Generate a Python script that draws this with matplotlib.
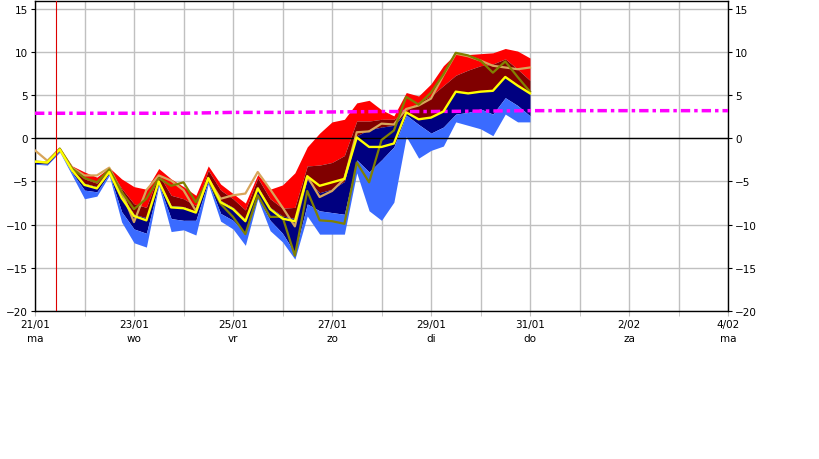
import matplotlib
matplotlib.use('agg')
import matplotlib.pyplot as plt
import matplotlib.dates as mdates
import matplotlib.ticker as mticker
import pandas as pd

# 6-hourly ensemble steps, 21/01 00h .. 31/01 00h
times = pd.date_range('2019-01-21 00:00', periods=41, freq='6h')

# band edges: minimum, lower quartile, median, upper quartile, maximum
t_min = [-3.0, -3.1, -1.6, -4.3, -7.0, -6.7, -4.3, -9.7, -12.1, -12.6,
         -5.5, -10.8, -10.6, -11.2, -5.3, -9.6, -10.5, -12.4, -7.0, -10.7,
         -12.0, -14.0, -9.0, -11.1, -11.1, -11.1, -4.0, -8.4, -9.5, -7.4,
         0.2, -2.3, -1.4, -0.9, 1.9, 1.5, 1.1, 0.3, 2.8, 1.9, 1.9]
t_q1 = [-2.9, -3.0, -1.5, -4.0, -6.0, -6.2, -4.1, -8.5, -10.5, -11.0,
        -5.3, -9.3, -9.5, -9.5, -5.0, -8.7, -9.5, -11.0, -6.8, -9.5,
        -11.0, -13.3, -7.6, -8.4, -8.6, -8.8, -2.5, -3.9, -2.5, -1.0,
        2.7, 1.6, 0.6, 1.3, 2.8, 3.0, 3.4, 2.8, 4.7, 3.8, 2.6]
t_med = [-2.75, -2.85, -1.3, -3.7, -5.2, -5.6, -3.8, -6.6, -8.8, -9.2,
         -4.9, -7.8, -7.9, -8.5, -4.5, -7.2, -8.0, -9.4, -5.6, -8.0,
         -9.0, -9.3, -4.8, -6.3, -5.9, -5.0, 0.3, 1.0, 1.3, 1.5,
         3.0, 2.3, 2.5, 3.2, 5.5, 5.3, 5.5, 5.6, 7.2, 6.2, 5.3]
t_q3 = [-2.7, -2.8, -1.2, -3.4, -4.7, -5.2, -3.6, -5.8, -7.6, -8.0,
        -4.2, -6.6, -7.0, -7.8, -3.7, -6.0, -7.0, -8.3, -4.6, -7.0,
        -8.1, -8.0, -3.2, -3.1, -2.8, -2.0, 2.0, 2.0, 2.2, 2.2,
        3.2, 4.2, 4.9, 6.1, 7.3, 7.9, 8.4, 8.6, 9.2, 8.0, 6.7]
t_max = [-2.6, -2.7, -1.1, -3.2, -3.9, -4.5, -3.4, -4.7, -5.6, -5.9,
         -3.5, -4.7, -5.6, -6.6, -3.2, -5.3, -6.4, -7.5, -4.2, -5.9,
         -5.4, -4.0, -1.0, 0.6, 1.9, 2.2, 4.1, 4.4, 3.3, 2.6,
         5.3, 4.9, 6.3, 8.4, 9.8, 9.7, 9.8, 9.9, 10.4, 10.1, 9.3]

# single runs
t_yellow = [-2.7, -2.8, -1.3, -3.7, -5.4, -5.8, -3.9, -6.9, -9.0, -9.5,
            -5.0, -8.0, -8.1, -8.6, -4.6, -7.4, -8.2, -9.6, -5.8, -8.2,
            -9.3, -9.6, -4.4, -5.5, -5.1, -4.7, 0.1, -1.0, -1.0, -0.6,
            3.0, 2.2, 2.4, 3.1, 5.4, 5.2, 5.4, 5.5, 7.1, 6.1, 5.2]
t_tan = [-1.4, -2.6, -1.2, -3.4, -4.3, -4.3, -3.4, -6.2, -9.7, -6.0,
         -4.3, -4.9, -6.0, -8.4, -4.7, -7.0, -6.6, -6.4, -3.9, -5.9,
         -8.0, -10.2, -4.4, -6.8, -6.1, -4.7, 0.7, 0.8, 1.7, 1.6,
         3.4, 3.8, 4.6, 7.3, 9.8, 9.5, 9.0, 8.4, 8.2, 8.0, 8.2]
t_olive = [-2.7, -2.8, -1.2, -3.5, -4.6, -5.1, -3.6, -6.2, -8.2, -7.0,
           -4.6, -5.5, -5.1, -7.4, -4.8, -7.6, -9.1, -11.1, -6.6, -9.1,
           -9.1, -13.6, -6.1, -9.5, -9.6, -9.9, -2.8, -5.1, -0.2, 0.9,
           4.8, 3.9, 5.3, 7.4, 9.9, 9.6, 9.0, 7.6, 8.9, 7.1, 5.4]

# climate mean, daily
clim_days = pd.date_range('2019-01-21', '2019-02-04', freq='D')
clim = [2.9, 2.9, 2.9, 2.9, 3.0, 3.0, 3.05, 3.1, 3.1, 3.15,
        3.2, 3.2, 3.2, 3.2, 3.2]

now = pd.Timestamp('2019-01-21 10:00')
daynames = ['ma', 'di', 'wo', 'do', 'vr', 'za', 'zo']

plt.rcParams['font.family'] = 'DejaVu Sans'
plt.rcParams['font.size'] = 7.5

fig = plt.figure(figsize=(8.19, 4.6), dpi=100)
ax = fig.add_axes([35 / 819, 148 / 460, 693 / 819, 310 / 460])

ax.fill_between(times, t_q3, t_max, color='#ff0000', lw=0, zorder=2)
ax.fill_between(times, t_med, t_q3, color='#800000', lw=0, zorder=2)
ax.fill_between(times, t_q1, t_med, color='#000080', lw=0, zorder=2)
ax.fill_between(times, t_min, t_q1, color='#3a6bff', lw=0, zorder=2)

ax.axhline(0, color='black', lw=1.0, zorder=3)
ax.plot(clim_days, clim, color='#ff00ff', lw=2.5, dashes=(2.7, 1.15, 1.0, 1.15), zorder=4)

ax.plot(times, t_tan, color='#d8a55a', lw=1.6, zorder=5)
ax.plot(times, t_olive, color='#808000', lw=1.6, zorder=6)
ax.plot(times, t_yellow, color='#ffff00', lw=1.7, zorder=7)

ax.axvline(now, color='#dd0000', lw=0.8, zorder=8)

ax.set_xlim(pd.Timestamp('2019-01-21'), pd.Timestamp('2019-02-04'))
ax.set_ylim(-20, 15.9)

ax.xaxis.set_major_locator(mdates.DayLocator(interval=2))
ax.xaxis.set_minor_locator(mdates.DayLocator())


def datelabel(x, pos=None):
    d = mdates.num2date(x)
    return '%d/%02d\n%s' % (d.day, d.month, daynames[d.weekday()])


ax.xaxis.set_major_formatter(mticker.FuncFormatter(datelabel))
ax.yaxis.set_major_locator(mticker.MultipleLocator(5))

ax.grid(True, which='both', axis='x', color='#c0c0c0', lw=1.0)
ax.grid(True, which='major', axis='y', color='#c0c0c0', lw=1.0)
ax.set_axisbelow(True)

ax.tick_params(axis='x', which='both', length=3.5, color='#c0c0c0', pad=2)
ax.tick_params(axis='y', which='major', length=3, color='black', pad=2,
               left=True, right=True, labelleft=True, labelright=True)
for lab in ax.get_xticklabels():
    lab.set_linespacing(1.6)

for s in ax.spines.values():
    s.set_linewidth(1.0)

plt.savefig('out.png', dpi=100)
plt.close(fig)
